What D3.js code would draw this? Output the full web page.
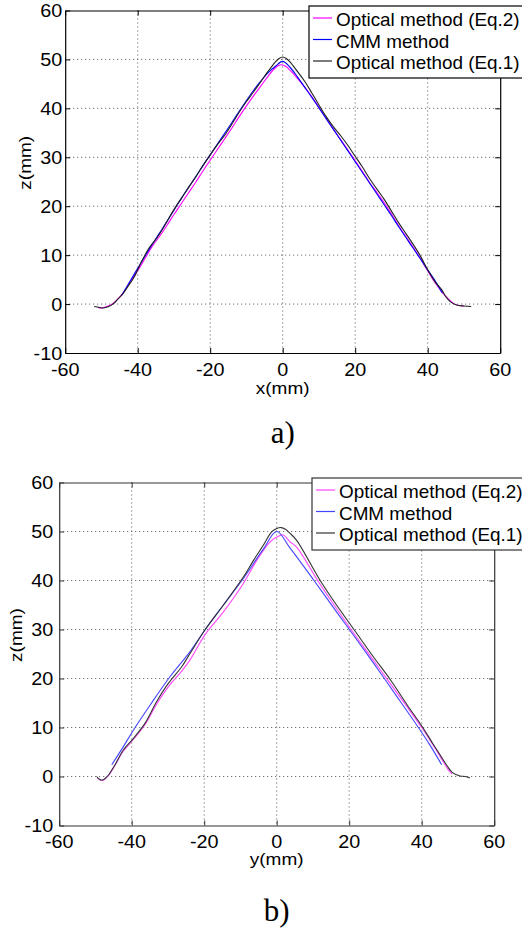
<!DOCTYPE html>
<html>
<head>
<meta charset="utf-8">
<script src="https://cdn.jsdelivr.net/npm/d3@7"></script>
<style>
  html, body { margin: 0; padding: 0; background: #fff; }
  svg { display: block; }
</style>
</head>
<body>
<svg id="chart" width="522" height="928"></svg>
<script>
// ---------- data ----------
const xTicks = [-60, -40, -20, 0, 20, 40, 60];
const zTicks = [-10, 0, 10, 20, 30, 40, 50, 60];
const seriesNames = ["Optical method (Eq.2)", "CMM method", "Optical method (Eq.1)"];

// Panel a) : x profile  [x(mm), z(mm)]
const aEq2 = [[-51,-0.7],[-50,-0.8],[-48.5,-0.5],[-47,0],[-45.5,1],[-44,2.3],[-42,4.6],[-40,6.8],[-38,9.3],[-36,11.8],[-34,13.8],[-32,16.0],[-30,18.3],[-28,20.5],[-26,22.7],[-24,24.9],[-22,27.2],[-20,29.4],[-18,31.6],[-16,33.8],[-14,36.0],[-12,38.3],[-10,40.5],[-8,42.6],[-6,44.6],[-4,46.6],[-2,48.3],[-0.5,48.9],[1,48.5],[2,47.8],[4,46.2],[6,44.4],[8,42.4],[10,40.2],[12,37.9],[14,35.7],[16,33.6],[18,31.5],[20,29.3],[22,27.1],[24,24.8],[26,22.8],[28,20.7],[30,18.4],[32,16.0],[34,13.8],[36,11.6],[38,9.3],[40,6.8],[42,4.4],[44,2.4],[45.5,1.2],[47,0.2],[48.5,-0.3],[50,-0.4]];
const aCMM = [[-44.4,1.8],[-42,4.8],[-40,7.3],[-38,9.8],[-36,12.2],[-34,14.5],[-32,16.8],[-30,19.2],[-28,21.5],[-26,23.8],[-24,26.0],[-22,28.3],[-20,30.5],[-18,32.7],[-16,34.9],[-14,37.1],[-12,39.4],[-10,41.6],[-8,43.7],[-6,45.6],[-4,47.3],[-2,48.6],[0,49.6],[2,48.4],[4,46.5],[6,44.4],[8,42.3],[10,40.1],[12,37.9],[14,35.7],[16,33.5],[18,31.3],[20,29.1],[22,26.9],[24,24.7],[26,22.5],[28,20.3],[30,18.1],[32,15.8],[34,13.6],[36,11.4],[38,9.2],[40,7.0],[42,4.8],[44,2.3]];
const aEq1 = [[-52,-0.5],[-50.5,-0.7],[-49.5,-0.8],[-48,-0.5],[-46.7,0.1],[-45.5,1.0],[-44,2.2],[-42.5,3.8],[-41,5.5],[-40,7],[-39,8.6],[-38,10],[-37,11.3],[-36,12.3],[-35,13.2],[-34,14.3],[-33,15.5],[-32,16.8],[-30,19.3],[-28,21.6],[-26,23.8],[-24,26.0],[-22,28.3],[-20,30.5],[-18,32.6],[-16,34.5],[-14,36.8],[-12,39.2],[-10,41.4],[-8,43.4],[-6,45.5],[-4,47.6],[-2,49.5],[-1,50.2],[0,50.5],[1,50.2],[2,49.5],[4,47.6],[6,45.6],[8,43.2],[10,40.7],[12,38.3],[14,36.2],[16,34.4],[18,32.4],[20,30.2],[22,28.0],[24,25.6],[26,23.5],[28,21.4],[30,19.0],[32,16.6],[34,14.4],[36,12.2],[38,9.8],[40,7.0],[42,4.6],[43.9,2.9],[45,1.5],[46.2,0.5],[48,-0.2],[50,-0.4],[52,-0.5]];

// Panel b) : y profile  [y(mm), z(mm)]
const bEq2 = [[-49.5,-0.3],[-48.5,-0.8],[-47.5,-0.6],[-46.4,0.2],[-44.6,2.3],[-42.3,5.2],[-39.5,7.6],[-36.3,10.6],[-33.1,14.8],[-29.9,18.3],[-26.2,21.5],[-23.9,23.8],[-19.8,28.9],[-14.7,33.6],[-9.2,39.4],[-5.5,44.1],[-1.8,47.9],[0.9,49.2],[1.8,49.3],[3.7,47.9],[5.5,46.8],[11.3,40],[16,34.8],[21,29.5],[26,24.4],[31,19.3],[36,14.2],[40,10],[43,6.6],[45.5,3.6],[47.3,1.4],[48.4,0.5]];
const bCMM = [[-45.5,2.4],[-42.3,6.1],[-39.5,9.5],[-34.9,14.6],[-29.4,20.4],[-23.9,25.5],[-19.8,29.9],[-14.7,35],[-9.2,40.4],[-3.7,46.4],[0,50],[3.7,46.6],[10.1,40.2],[16.6,33.5],[22.1,27.9],[29.7,20],[34.4,15],[38.9,10.2],[42.2,6.5],[45.5,2.4]];
const bEq1 = [[-49.7,0],[-48.8,-0.6],[-48,-0.7],[-47.2,-0.3],[-46.4,0.3],[-44.6,2.4],[-42.3,5.4],[-39.5,7.8],[-36.3,10.9],[-33.1,15.3],[-29.9,19],[-26.2,22.4],[-23.9,25.1],[-19.8,29.9],[-14.7,35],[-9.2,40.7],[-6.4,44.1],[-3.7,47.2],[-1.4,49.9],[0,50.6],[1.2,50.8],[2.5,50.4],[3.7,49.6],[5.5,48.2],[12,40],[16.5,35],[21.5,29.8],[26.5,24.6],[31.5,19.6],[36,14.6],[40.3,10],[43,6.8],[45.1,4.4],[47,2.2],[48.5,0.8],[50.6,0.1],[52,0],[53.3,-0.3]];

// ---------- drawing ----------
const svg = d3.select("#chart");
const SANS = "'Liberation Sans', Arial, sans-serif";
const SERIF = "'Liberation Serif', 'Times New Roman', serif";

function stext(g, x, y, str, opts) {
  return g.append("text")
    .attr("transform", `translate(${x},${y}) scale(${opts.sx || 1},1)`)
    .attr("text-anchor", opts.anchor || "start")
    .style("font-family", opts.family || SANS)
    .style("font-size", opts.size + "px")
    .attr("fill", opts.fill || "#000")
    .text(str);
}

function panel(cfg) {
  const x = d3.scaleLinear().domain([-60, 60]).range([cfg.left, cfg.right]);
  const y = d3.scaleLinear().domain([-10, 60]).range([cfg.bottom, cfg.top]);
  const g = svg.append("g");

  // grid
  g.append("g").selectAll("line").data(xTicks.slice(1, -1)).join("line")
    .attr("x1", d => x(d)).attr("x2", d => x(d))
    .attr("y1", cfg.top).attr("y2", cfg.bottom)
    .attr("stroke", "#555").attr("stroke-width", 1).attr("stroke-dasharray", "1,3");
  g.append("g").selectAll("line").data(zTicks.slice(1, -1)).join("line")
    .attr("y1", d => y(d)).attr("y2", d => y(d))
    .attr("x1", cfg.left).attr("x2", cfg.right)
    .attr("stroke", "#555").attr("stroke-width", 1).attr("stroke-dasharray", "1,3");

  // series
  const line = d3.line().x(d => x(d[0])).y(d => y(d[1])).curve(d3.curveCatmullRom.alpha(0.5));
  cfg.series.forEach((s, i) => {
    g.append("path").datum(s).attr("d", line)
      .attr("fill", "none").attr("stroke", cfg.colors[i]).attr("stroke-width", 1.1);
  });

  // axes (ticks inward, on all four sides)
  const tk = 5;
  const ax = [
    [d3.axisBottom(x).tickValues(xTicks), 0, cfg.bottom],
    [d3.axisTop(x).tickValues(xTicks), 0, cfg.top],
    [d3.axisLeft(y).tickValues(zTicks), cfg.left, 0],
    [d3.axisRight(y).tickValues(zTicks), cfg.right, 0]
  ];
  ax.forEach(([a, tx, ty]) => {
    const ag = g.append("g").attr("transform", `translate(${tx},${ty})`)
      .call(a.tickSizeInner(-tk).tickSizeOuter(0).tickFormat(""));
    ag.select(".domain").attr("stroke", cfg.frame).attr("stroke-width", 1.2);
    ag.selectAll(".tick line").attr("stroke", cfg.frame);
  });

  // tick labels
  xTicks.forEach(v => stext(g, x(v), cfg.bottom + cfg.xLabOff, String(v), {anchor: "middle", size: 18, sx: 1.1}));
  zTicks.forEach(v => stext(g, cfg.left - cfg.yLabGap, y(v) + 6.5, String(v), {anchor: "end", size: 18, sx: 1.1}));

  // axis titles
  stext(g, (cfg.left + cfg.right) / 2, cfg.bottom + cfg.titleOff, cfg.xTitle, {anchor: "middle", size: 17, sx: 1.12});
  g.append("text")
    .attr("transform", `translate(${cfg.zTitleX},${(cfg.top + cfg.bottom) / 2 - 19}) rotate(-90) scale(1.12,1)`)
    .attr("text-anchor", "middle")
    .style("font-family", SANS).style("font-size", "17px")
    .text("z(mm)");

  // legend
  const lg = g.append("g");
  lg.append("rect").attr("x", cfg.legX).attr("y", cfg.legY).attr("width", 240).attr("height", 72)
    .attr("fill", "#fff").attr("stroke", cfg.frame).attr("stroke-width", 1.2);
  seriesNames.forEach((name, i) => {
    const by = cfg.legY + 20 + i * 21.5;
    lg.append("line").attr("x1", cfg.legX + 4).attr("x2", cfg.legX + 23)
      .attr("y1", by - 8).attr("y2", by - 8)
      .attr("stroke", cfg.colors[i]).attr("stroke-width", 1.2);
    stext(lg, cfg.legX + 27, by, name, {size: 18, sx: 1.05});
  });

  // panel label
  stext(g, (cfg.left + cfg.right) / 2, cfg.capY, cfg.caption, {anchor: "middle", size: 31, family: SERIF});
}

panel({
  left: 65.2, right: 500.2, top: 10.5, bottom: 353,
  series: [aEq2, aCMM, aEq1],
  colors: ["#ff00ff", "#0000ff", "#222"],
  frame: "#000",
  xLabOff: 23, yLabGap: 3, titleOff: 41, xTitle: "x(mm)", zTitleX: 31,
  legX: 309, legY: 6, capY: 443, caption: "a)"
});

panel({
  left: 59.2, right: 494.2, top: 482.5, bottom: 825.5,
  series: [bEq2, bCMM, bEq1],
  colors: ["#ff44ff", "#4444ff", "#333"],
  frame: "#333",
  xLabOff: 22, yLabGap: 6, titleOff: 39, xTitle: "y(mm)", zTitleX: 22,
  legX: 312, legY: 478, capY: 921, caption: "b)"
});
</script>
</body>
</html>
